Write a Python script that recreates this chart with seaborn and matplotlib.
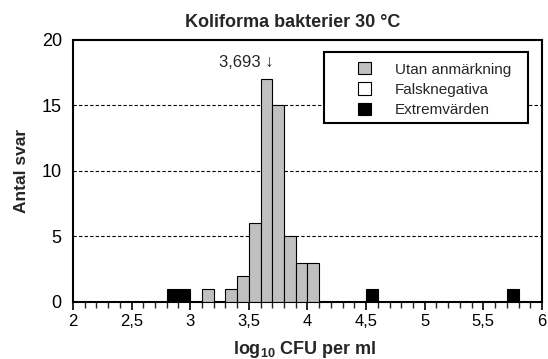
import numpy as np
import pandas as pd
import matplotlib
matplotlib.use("Agg")
import matplotlib.pyplot as plt
from matplotlib.patches import Patch, Rectangle
from matplotlib.ticker import MultipleLocator, FuncFormatter
import seaborn as sns

# Histogram bins (centres, width 0.1 log10 units) and number of answers
normal_centres = [3.15, 3.35, 3.45, 3.55, 3.65, 3.75, 3.85, 3.95, 4.05]
normal_counts = [1, 1, 2, 6, 17, 15, 5, 3, 3]
outlier_centres = [2.85, 2.95, 4.55, 5.75]
outlier_counts = [1, 1, 1, 1]
false_neg_centres = []
false_neg_counts = []

median_value = 3.693
legend_labels = ["Utan anmärkning", "Falsknegativa", "Extremvärden"]
title = "Koliforma bakterier 30 °C"

sns.set_theme(style="white")
plt.rcParams["font.family"] = ["Liberation Sans", "DejaVu Sans"]
plt.rcParams["mathtext.fontset"] = "custom"
plt.rcParams["mathtext.rm"] = "Liberation Sans:bold"
plt.rcParams["mathtext.bf"] = "Liberation Sans:bold"

fig = plt.figure(figsize=(5.48, 3.59), dpi=100)
ax = fig.add_axes([0.133, 0.159, 0.856, 0.73])

normal = pd.DataFrame({"x": normal_centres, "n": normal_counts})
extreme = pd.DataFrame({"x": outlier_centres, "n": outlier_counts})

hist_kw = dict(binwidth=0.1, binrange=(2.0, 6.0), edgecolor="black",
               linewidth=0.8, alpha=1, ax=ax, zorder=3)
sns.histplot(data=normal, x="x", weights="n", color="#c0c0c0", **hist_kw)
sns.histplot(data=extreme, x="x", weights="n", color="black", **hist_kw)

ax.set_xlim(2, 6)
ax.set_ylim(0, 20)
ax.xaxis.set_major_locator(MultipleLocator(0.5))
ax.xaxis.set_minor_locator(MultipleLocator(0.1))
ax.yaxis.set_major_locator(MultipleLocator(5))
ax.xaxis.set_major_formatter(FuncFormatter(lambda v, p: f"{v:g}".replace(".", ",")))
ax.tick_params(axis="x", which="major", direction="out", length=6, width=1.2,
               bottom=True, labelsize=12, colors="black", pad=3)
ax.tick_params(axis="x", which="minor", direction="out", length=4, width=1.0, bottom=True)
ax.tick_params(axis="y", which="both", left=False, length=0, labelsize=13,
               colors="black", pad=8)

for y in (5, 10, 15):
    ax.axhline(y, color="black", linestyle=(0, (3, 2)), linewidth=0.8, zorder=1)

for s in ax.spines.values():
    s.set_visible(True)
    s.set_color("black")
    s.set_linewidth(1.5)

fig.text(0.534, 1 - 27 / 359, title, ha="center", va="baseline",
         fontsize=13, fontweight="bold")
ax.set_ylabel("Antal svar", fontsize=12.5, fontweight="bold")
ax.yaxis.set_label_coords(-0.094, 0.5)
ax.set_xlabel(r"log$_{10}$ CFU per ml", fontsize=13, fontweight="bold")
ax.xaxis.set_label_coords(0.495, -0.141)

ax.text(median_value + 0.02, 18.3, f"{median_value:.3f}".replace(".", ",") + " ↓",
        ha="right", va="center", fontsize=12, zorder=5)

# legend: framed box drawn separately so the padding can be set freely
ax.add_patch(Rectangle((0.535, 0.683), 0.435, 0.271, transform=ax.transAxes,
                       facecolor="white", edgecolor="black", linewidth=1.5,
                       zorder=6))
handles = [Patch(facecolor="#c0c0c0", edgecolor="black", linewidth=0.8),
           Patch(facecolor="white", edgecolor="black", linewidth=0.8),
           Patch(facecolor="black", edgecolor="black", linewidth=0.8)]
leg = ax.legend(handles, legend_labels, loc="center left", bbox_to_anchor=(0.608, 0.81),
                fontsize=11, frameon=False, handlelength=0.85, handleheight=0.85,
                handletextpad=1.55, labelspacing=0.38, borderpad=0, borderaxespad=0)
leg.set_zorder(7)

fig.savefig("out.png", dpi=100)
